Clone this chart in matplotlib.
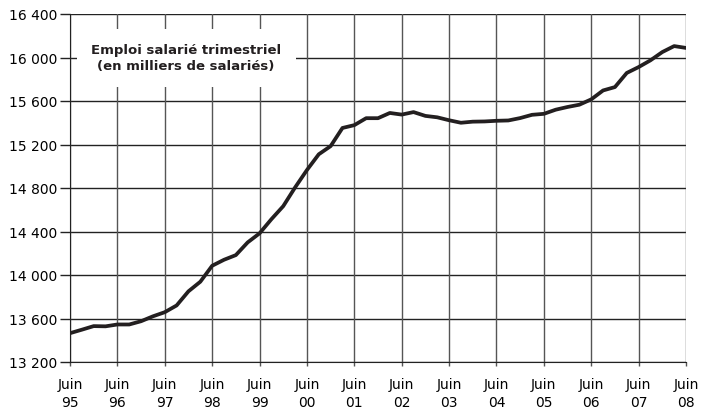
import numpy as np
import matplotlib
matplotlib.use("Agg")
import matplotlib.pyplot as plt
from matplotlib.patches import Rectangle

# quarterly salaried employment, thousands (Juin 95 -> Juin 08)
emploi = [13465, 13497, 13530,
          13528, 13545, 13545, 13575,
          13620, 13658, 13720, 13850,
          13938, 14085, 14140, 14183,
          14300, 14383, 14513, 14633,
          14805, 14965, 15110, 15185,
          15352, 15378, 15442, 15442,
          15490, 15475, 15498, 15463,
          15450, 15423, 15400, 15410,
          15412, 15418, 15421, 15443,
          15473, 15482, 15520, 15545,
          15566, 15615, 15697, 15728,
          15858, 15912, 15974, 16050,
          16105, 16088]
annees = ["95", "96", "97", "98", "99", "00", "01", "02", "03", "04", "05", "06", "07", "08"]
y_ticks = [13200, 13600, 14000, 14400, 14800, 15200, 15600, 16000, 16400]

fig = plt.figure(figsize=(7.11, 4.14), dpi=100)
ax = fig.add_axes([70 / 711, 1 - 363 / 414, 616 / 711, 348 / 414])

x = np.arange(len(emploi))
ax.plot(x, emploi, color="#231f20", lw=2.7, solid_joinstyle="round", zorder=4)

ax.set_xlim(0, len(emploi) - 1)
ax.set_ylim(13200, 16400)
ax.set_xticks(np.arange(0, len(emploi), 4))
ax.set_xticklabels(["Juin\n" + a for a in annees], fontsize=10, linespacing=1.35)
ax.set_yticks(y_ticks)
ax.set_yticklabels([f"{v:,}".replace(",", " ") for v in y_ticks], fontsize=10)

for v in y_ticks:
    ax.axhline(v, color="#222222", lw=1.0, zorder=1)
for t in np.arange(0, len(emploi), 4):
    ax.axvline(t, color="#555555", lw=1.0, zorder=1)

for s in ["top", "right"]:
    ax.spines[s].set_visible(False)
ax.spines["left"].set_color("#222222")
ax.spines["bottom"].set_color("#222222")
ax.tick_params(axis="y", length=7, width=1, color="#222222", pad=2)
ax.tick_params(axis="x", length=3, width=1, color="#555555", pad=8)

ax.add_patch(Rectangle((0.011, 0.790), 0.356, 0.167, transform=ax.transAxes,
                       facecolor="white", edgecolor="none", zorder=2))
ax.text(0.188, 0.874, "Emploi salarié trimestriel\n(en milliers de salariés)",
        transform=ax.transAxes, ha="center", va="center", fontsize=9.5,
        fontweight="bold", color="#231f20", linespacing=1.3, zorder=3)

fig.savefig("out.png", dpi=100)
